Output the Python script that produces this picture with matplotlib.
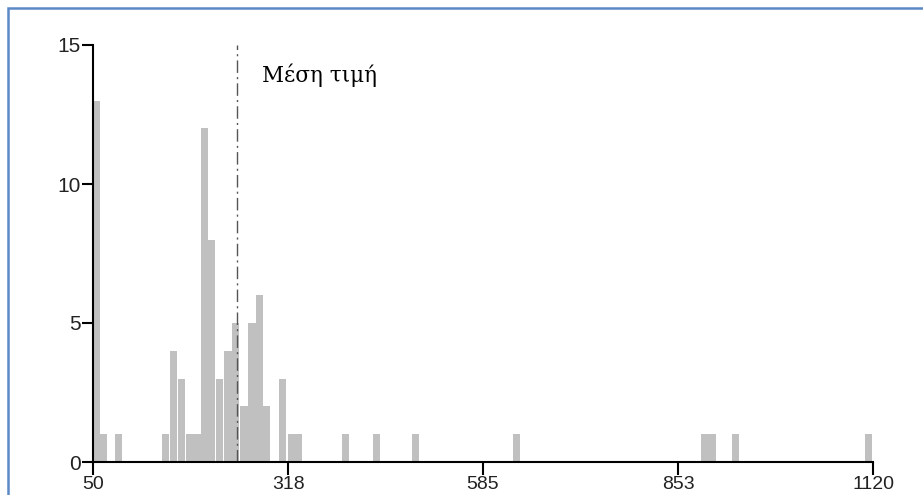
import matplotlib
matplotlib.use("Agg")
import matplotlib.pyplot as plt
from matplotlib.patches import Rectangle

# Data
bin_centers = [55, 64, 85, 149, 160, 171, 183, 193, 203, 213, 223.5, 235, 245.5,
               257, 268, 278, 288, 310, 322, 332, 396, 439, 492, 631, 889, 899,
               931, 1114]
counts = [13, 1, 1, 1, 4, 3, 1, 1, 12, 8, 3, 4, 5, 2, 5, 6, 2, 3, 1, 1, 1, 1,
          1, 1, 1, 1, 1, 1]
mean_value = 247
mean_label = "Μέση τιμή"
x_ticks = [50, 318, 585, 853, 1120]
y_ticks = [0, 5, 10, 15]

W, H = 923, 495
fig = plt.figure(figsize=(W / 100, H / 100), dpi=100)
fig.patch.set_facecolor("white")

ax = fig.add_axes([93 / W, (H - 462) / H, (873 - 93) / W, (462 - 45) / H])
ax.bar(bin_centers, counts, width=10, color="#c0c0c0", edgecolor="none", zorder=1)

ax.axvline(mean_value, ymin=0, ymax=1, color="#555555", lw=1.0,
           linestyle=(0, (9, 3, 1.5, 3)), zorder=2)

# label placed in axes-pixel terms: left edge at x=262px, centre y=75px
ax.text((262 - 93) / (873 - 93), (462 - 75.5) / (462 - 45), mean_label,
        transform=ax.transAxes, fontsize=15.5,
        family=["DejaVu Serif", "Liberation Serif"],
        ha="left", va="center", color="black")

ax.set_xlim(50, 1120)
ax.set_ylim(0, 15)
ax.set_xticks(x_ticks)
ax.set_xticklabels([str(v) for v in x_ticks])
ax.set_yticks(y_ticks)
ax.set_yticklabels([str(v) for v in y_ticks])

for s in ["top", "right"]:
    ax.spines[s].set_visible(False)
for s in ["left", "bottom"]:
    ax.spines[s].set_linewidth(1.5)
    ax.spines[s].set_color("black")
    ax.spines[s].set_zorder(3)

tick_font = ["Liberation Sans", "DejaVu Sans"]
ax.tick_params(axis="x", direction="out", length=9, width=1.5, pad=1, labelsize=14)
ax.tick_params(axis="y", direction="out", length=8, width=1.5, pad=1, labelsize=15)
for lab in ax.get_xticklabels() + ax.get_yticklabels():
    lab.set_family(tick_font)
    lab.set_color("#222222")

# Blue frame (top and left edges visible; bottom cropped)
fig.add_artist(Rectangle((8 / W, -0.1), 1.2, (H - 7.5) / H + 0.1,
                         transform=fig.transFigure, fill=False,
                         edgecolor="#5b89c6", lw=1.8))

fig.savefig("out.png", dpi=100, facecolor="white")
